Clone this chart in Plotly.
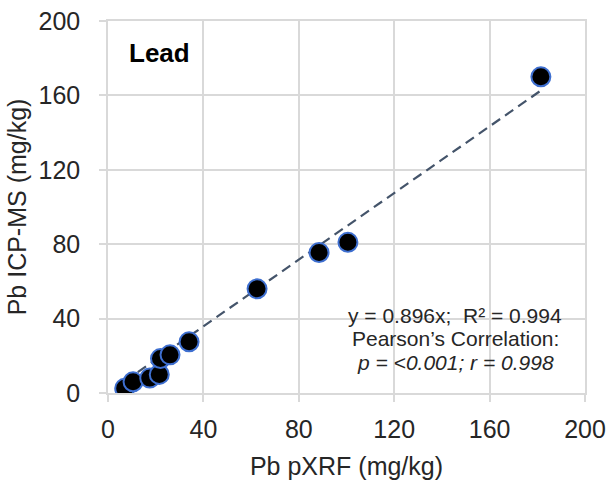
import plotly.graph_objects as go

pxrf = [7, 10.5, 17.5, 21.5, 22, 26, 34, 62.5, 88.5, 100.6, 181.5]
icpms = [2.5, 6, 8, 10, 18.5, 20.5, 27.5, 56, 75.5, 81, 170]
slope = 0.896
ticks = [0, 40, 80, 120, 160, 200]

fit_x = [min(pxrf), max(pxrf)]
fit_y = [slope * v for v in fit_x]

FONT = "Liberation Sans, Arial"
TXT = "#262626"

fig = go.Figure()
fig.add_trace(go.Scatter(x=fit_x, y=fit_y, mode="lines",
                         line=dict(color="#44546A", width=2.2, dash="10px,6px"),
                         hoverinfo="skip", showlegend=False))
fig.add_trace(go.Scatter(x=pxrf, y=icpms, mode="markers",
                         marker=dict(size=19, color="black",
                                     line=dict(color="#3E6FD0", width=2)),
                         showlegend=False))

axis_common = dict(range=[0, 200], tickvals=ticks, showgrid=True,
                   gridcolor="#d9d9d9", gridwidth=1.5, zeroline=False,
                   showline=True, linecolor="#d9d9d9", linewidth=1.5, mirror=True,
                   ticks="outside", ticklen=7, tickcolor="#d9d9d9", tickwidth=1.5,
                   automargin=False, ticklabeloverflow="allow",
                   tickfont=dict(family=FONT, size=25, color=TXT))

fig.update_xaxes(**axis_common, ticklabelstandoff=6,
                 title=dict(text="Pb pXRF (mg/kg)", standoff=16,
                            font=dict(family=FONT, size=25, color=TXT)))
fig.update_yaxes(**axis_common, ticklabelstandoff=14,
                 title=dict(text="Pb ICP-MS (mg/kg)", standoff=5,
                            font=dict(family=FONT, size=25, color=TXT)))

fig.add_annotation(x=0.04, y=0.96, xref="paper", yref="paper", xanchor="left", yanchor="top",
                   text="<b>Lead</b>", showarrow=False,
                   font=dict(family=FONT, size=26, color="black"))

ann_lines = ["y = 0.896x;  R² = 0.994", "Pearson’s Correlation:", "<i>p = <0.001; r = 0.998</i>"]
ann_y = [0.209, 0.147, 0.083]
for t, yy in zip(ann_lines, ann_y):
    fig.add_annotation(x=0.7275, y=yy, xref="paper", yref="paper", xanchor="center", yanchor="middle",
                       text=t, showarrow=False,
                       font=dict(family=FONT, size=21, color=TXT))

fig.update_layout(width=611, height=482, margin=dict(l=108, r=26, t=21, b=89),
                  plot_bgcolor="white", paper_bgcolor="white")
# remove the default 8px body margin so the figure fills the window exactly
fig.write_html("out.html", config={"displayModeBar": False},
               post_script="document.body.style.margin='0';")
